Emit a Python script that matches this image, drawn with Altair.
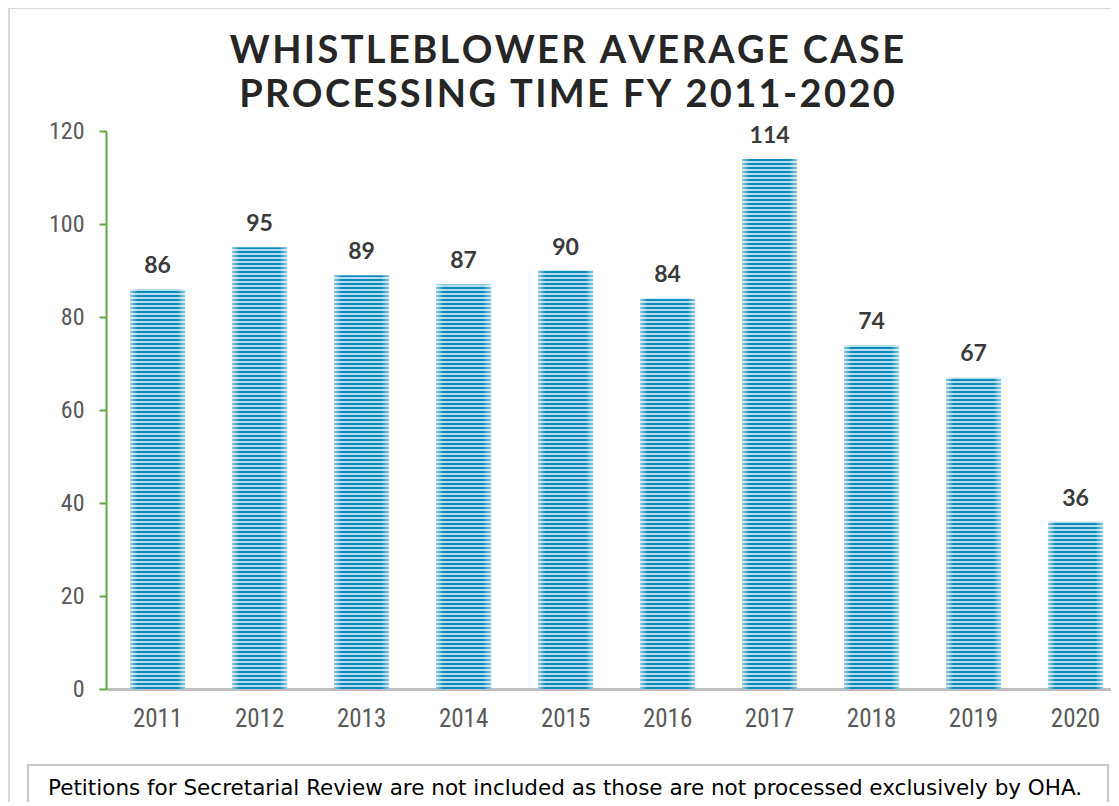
import altair as alt
import pandas as pd

years = ["2011", "2012", "2013", "2014", "2015", "2016", "2017", "2018", "2019", "2020"]
days = [86, 95, 89, 87, 90, 84, 114, 74, 67, 36]
y_ticks = [0, 20, 40, 60, 80, 100, 120]
title_lines = ["WHISTLEBLOWER AVERAGE CASE", "PROCESSING TIME FY 2011-2020"]
footnote = "Petitions for Secretarial Review are not included as those are not processed exclusively by OHA."

df = pd.DataFrame({"year": years, "days": days})

W, H = 1005, 558
YMAX = 120
DARK = "#0f8bbb"
LIGHT = "#b3dcee"


def spaced(s):
    return "\u200a".join(list(s))


def stripes(value, period=4.0, dark=2.0):
    # stripes measured from the bar's base (pixel-aligned), gradient runs bottom -> top
    h = value / YMAX * H
    stops = []
    k = 0
    while k * period < h:
        a = k * period / h
        b = min((k * period + dark) / h, 1)
        c = min((k + 1) * period / h, 1)
        stops += [{"offset": a, "color": DARK}, {"offset": b, "color": DARK},
                  {"offset": b, "color": LIGHT}, {"offset": c, "color": LIGHT}]
        k += 1
    return {"gradient": "linear", "x1": 0, "y1": 1, "x2": 0, "y2": 0, "stops": stops}


LABEL_FONT = "Liberation Sans Narrow, Roboto Condensed, Roboto, sans-serif"

xenc = alt.X("year:N", sort=years, title=None,
             scale=alt.Scale(paddingInner=0.46, paddingOuter=0.157, align=0.752),
             axis=alt.Axis(labelAngle=0, ticks=False, tickSize=0, labelPadding=17,
                           domainColor="#bfbfbf", domainWidth=3,
                           labelFont=LABEL_FONT,
                           labelFontSize=25, labelColor="#595959", grid=False))
yenc = alt.Y("days:Q", title=None,
             scale=alt.Scale(domain=[0, YMAX], nice=False),
             axis=alt.Axis(values=y_ticks, grid=False, domainColor="#62a744", domainWidth=2,
                           tickColor="#62a744", tickWidth=2, tickSize=7, labelPadding=15,
                           labelFont=LABEL_FONT,
                           labelFontSize=24, labelColor="#595959"))

base = alt.Chart(df).encode(x=xenc, y=yenc)

layers = []
for yr, v in zip(years, days):
    layers.append(base.transform_filter(alt.datum.year == yr).mark_bar(fill=stripes(v)))

edge = base.mark_bar(fill={"gradient": "linear", "x1": 0, "y1": 0, "x2": 1, "y2": 0,
                           "stops": [{"offset": 0, "color": "rgba(255,255,255,0.55)"},
                                     {"offset": 0.14, "color": "rgba(255,255,255,0)"},
                                     {"offset": 0.86, "color": "rgba(255,255,255,0)"},
                                     {"offset": 1, "color": "rgba(255,255,255,0.55)"}]})

labels = base.mark_text(font="Lato", fontWeight="bold", fontSize=23, color="#3a3a3a",
                        baseline="alphabetic", dy=-16).encode(text="days:Q")

one = pd.DataFrame({"t1": [spaced(title_lines[0])], "t2": [spaced(title_lines[1])], "note": [footnote]})

title1 = alt.Chart(one).mark_text(font="Lato", fontSize=38, fontWeight="bold", color="#262626",
                                  align="center", baseline="alphabetic").encode(
    x=alt.value(461), y=alt.value(-68), text="t1:N")
title2 = alt.Chart(one).mark_text(font="Lato", fontSize=38, fontWeight="bold", color="#262626",
                                  align="center", baseline="alphabetic").encode(
    x=alt.value(461), y=alt.value(-24), text="t2:N")

note_box = alt.Chart(one).mark_rect(fill="white", stroke="#c8c8c8", strokeWidth=2).encode(
    x=alt.value(-78), x2=alt.value(1002), y=alt.value(634), y2=alt.value(720))
note_text = alt.Chart(one).mark_text(font="DejaVu Sans", fontSize=21.5, color="#000000",
                                     align="left", baseline="alphabetic").encode(
    x=alt.value(-58), y=alt.value(664), text="note:N")

frame = alt.Chart(one).mark_rect(fill=None, stroke="#d9d9d9", strokeWidth=2).encode(
    x=alt.value(-97), x2=alt.value(1200), y=alt.value(-123), y2=alt.value(900))

chart = alt.layer(frame, *layers, edge, labels, title1, title2, note_box, note_text).properties(
    width=W, height=H,
    padding={"left": 98, "top": 123, "right": 0, "bottom": 113},
    autosize=alt.AutoSizeParams(type="none"),
).configure(background="white", view=alt.ViewConfig(stroke=None))

chart.save("out.html", embed_options={"renderer": "svg", "actions": False})
